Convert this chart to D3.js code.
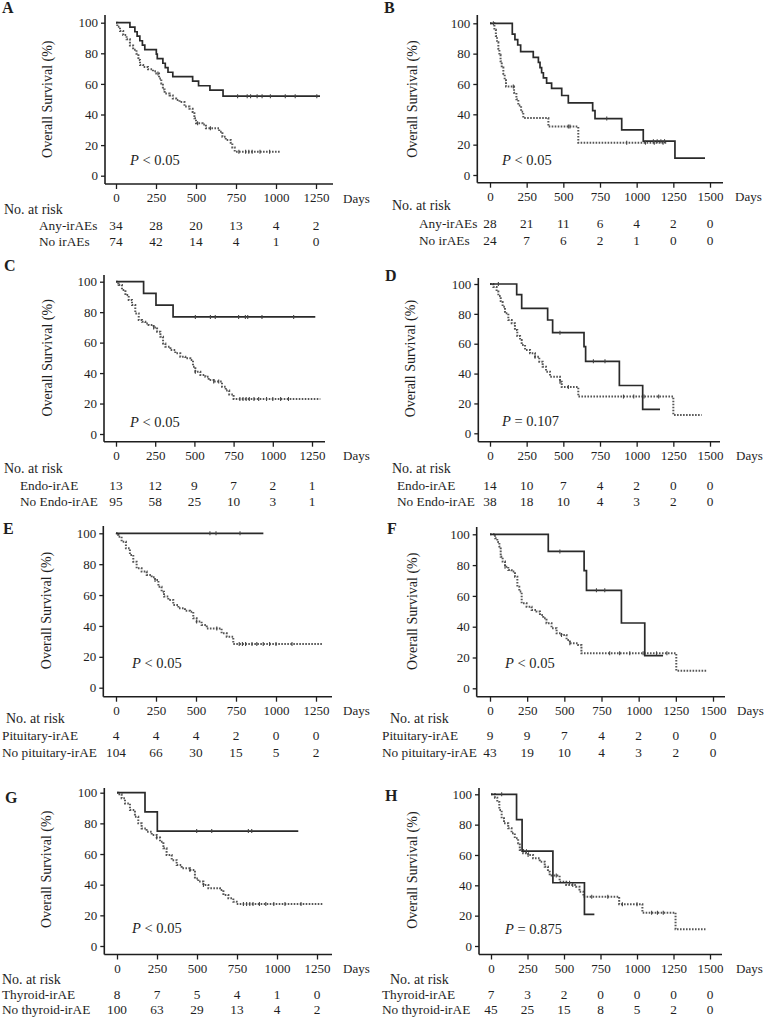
<!DOCTYPE html>
<html><head><meta charset="utf-8">
<script src="https://cdn.jsdelivr.net/npm/d3@7"></script>
<style>
body{margin:0;background:#fff;}
text{font-family:"Liberation Serif","Times New Roman",serif;fill:#1e1e1e;}
</style></head><body>
<svg id="chart" width="765" height="1019"></svg>
<script>
// ---------- tick labels ----------
const xTicksShort = [0,250,500,750,1000,1250];
const xTicksLong = [0,250,500,750,1000,1250,1500];
const yTicks = [0,20,40,60,80,100];

// ---------- Panel A ----------
const A_groups = ["Any-irAEs","No irAEs"];
const A_irAE = [[0,100],[87,97.1],[118,94.1],[132,91.2],[149,88.2],[165,85.3],[180,82.4],[252,79.4],[258,76.5],[293,73.5],[308,70.6],[325,67.6],[355,64.7],[479,61.8],[516,58.8],[587,55.9],[669,52.0],[1275,52.0]];
const A_irAE_cens = [760,820,841,882,913,965,1058,1120,1255];
const A_no = [[0,100],[8,97.3],[25,94.6],[45,91.9],[66,89.2],[87,85.1],[107,82.4],[128,79.7],[140,75.7],[150,72.3],[170,71],[200,69.6],[231,68.2],[252,66.8],[269,63.6],[283,60.3],[293,56.4],[304,53.8],[335,52.5],[355,50.5],[376,49.5],[397,48.1],[428,45.2],[459,43.8],[479,41.6],[490,37.5],[500,34.3],[541,33.5],[562,31],[645,28.8],[665,25.5],[686,23.3],[717,21.5],[727,18.5],[742,15.7],[1027,15.7]];
const A_no_cens = [262,510,590,768,810,830,851,900,960];
const A_risk1 = [34,28,20,13,4,2];
const A_risk2 = [74,42,14,4,1,0];

// ---------- Panel B ----------
const B_groups = ["Any-irAEs","No irAEs"];
const B_irAE = [[0,100],[152,92.9],[170,89.3],[189,85.7],[209,81.3],[295,77.6],[330,74.2],[341,70.8],[352,67.4],[364,64],[386,60.6],[420,57.1],[489,52.4],[534,47.6],[700,42.5],[716,37.2],[898,29.7],[1045,22.3],[1261,11.1],[1466,11.1]];
const B_irAE_cens = [23,796,1114,1140,1165,1190];
const B_no = [[0,100],[30,95.8],[40,91.7],[48,87.5],[57,83.3],[64,79.2],[72,75],[80,70.8],[91,66.7],[100,62.5],[109,58.3],[164,54.2],[180,50],[193,45.8],[212,41.7],[227,37.5],[398,31.9],[602,21.3],[1205,21.3]];
const B_no_cens = [159,534,545,932,1060,1120,1180];
const B_risk1 = [28,21,11,6,4,2,0];
const B_risk2 = [24,7,6,2,1,0,0];

// ---------- Panel C ----------
const C_groups = ["Endo-irAE","No Endo-irAE"];
const C_irAE = [[0,100],[176,92.3],[255,84.6],[364,76.9],[1271,76.9]];
const C_irAE_cens = [506,602,633,782,825,840,931,1133];
const C_no = [[0,100],[6,98.9],[17,97.8],[38,94.5],[60,91.2],[81,88],[102,84.7],[123,79.2],[145,74.8],[166,73.7],[187,72.6],[208,71.6],[240,70],[262,67.2],[283,63.9],[300,59.5],[315,57.3],[347,55.1],[378,53],[410,50.8],[442,49.7],[474,48.6],[491,44.2],[506,40.9],[538,38.7],[570,37.6],[591,35.4],[623,34.4],[676,31.1],[700,28.5],[722,26],[750,23],[1303,23]];
const C_no_cens = [240,506,623,655,790,810,830,850,880,910,960,1000,1050,1100];
const C_risk1 = [13,12,9,7,2,1];
const C_risk2 = [95,58,25,10,3,1];

// ---------- Panel D ----------
const D_groups = ["Endo-irAE","No Endo-irAE"];
const D_irAE = [[0,100],[182,92.9],[216,83.7],[393,75.9],[427,67.4],[641,58],[652,48.2],[882,32],[1041,16],[1159,16]];
const D_irAE_cens = [57,477,705,784];
const D_no = [[0,100],[23,98],[45,94.9],[57,92],[73,88],[86,84.8],[102,80.4],[125,75.9],[148,73.7],[170,69.2],[186,65.2],[205,62.5],[216,59.2],[239,55.8],[273,53.6],[307,51.3],[336,48],[359,44.6],[382,41.3],[409,37.9],[477,34.6],[489,31],[602,24.6],[1250,12.3],[1443,12.3]];
const D_no_cens = [307,477,534,910,980,1050,1150];
const D_risk1 = [14,10,7,4,2,0,0];
const D_risk2 = [38,18,10,4,3,2,0];

// ---------- Panel E ----------
const E_groups = ["Pituitary-irAE","No pituitary-irAE"];
const E_irAE = [[0,100],[921,100]];
const E_irAE_cens = [587,625,775];
const E_no = [[0,100],[4,98.9],[15,97.8],[35,94.6],[62,90.3],[87,86],[108,81.6],[129,77.3],[160,75.2],[192,73],[223,71.5],[244,69.8],[265,65.4],[285,62.2],[300,59],[327,56.8],[358,53.6],[390,51.4],[431,49.9],[462,49.2],[483,44.9],[504,42.8],[535,40.6],[567,38.4],[660,35.2],[692,33],[733,28.3],[1291,28.3]];
const E_no_cens = [244,504,630,770,790,810,850,880,920,960,1000,1100];
const E_risk1 = [4,4,4,2,0,0];
const E_risk2 = [104,66,30,15,5,2];

// ---------- Panel F ----------
const F_groups = ["Pituitary-irAE","No pituitary-irAE"];
const F_irAE = [[0,100],[392,88.9],[633,76.4],[649,63.6],[884,42.4],[1041,21.2],[1164,21.2]];
const F_irAE_cens = [470,716,772];
const F_no = [[0,100],[34,97.4],[49,95],[63,92],[72,85.5],[85,82.3],[101,79],[123,76.8],[145,75.8],[168,72.5],[184,66],[197,62.8],[213,55.2],[246,53],[280,50.9],[313,49.8],[336,47.6],[358,45.5],[380,42.2],[414,39],[448,35.7],[481,34.6],[515,31.4],[537,29.2],[593,28.1],[615,22.7],[1253,11.4],[1455,11.4]];
const F_no_cens = [101,481,537,805,872,940,1030,1120,1190];
const F_risk1 = [9,9,7,4,2,0,0];
const F_risk2 = [43,19,10,4,3,2,0];

// ---------- Panel G ----------
const G_groups = ["Thyroid-irAE","No thyroid-irAE"];
const G_irAE = [[0,100],[175,87.5],[252,75],[1133,75]];
const G_irAE_cens = [498,592,821,842];
const G_no = [[0,100],[8,99],[29,96.3],[50,93],[81,88.7],[112,84.3],[133,80],[154,76.7],[185,74.6],[217,72.4],[248,70.7],[269,68],[290,63.7],[310,59.3],[342,56],[373,52.8],[404,50.7],[456,49.6],[487,44.1],[508,42],[540,39.8],[571,37.6],[644,36.5],[665,33.3],[696,31.1],[727,28.9],[748,27.4],[1290,27.4]];
const G_no_cens = [248,456,540,790,810,830,850,890,930,980,1050,1150];
const G_risk1 = [8,7,5,4,1,0];
const G_risk2 = [100,63,29,13,4,2];

// ---------- Panel H ----------
const H_groups = ["Thyroid-irAE","No thyroid-irAE"];
const H_irAE = [[0,100],[175,83.3],[213,62.5],[424,41.7],[640,20.8],[708,20.8]];
const H_irAE_cens = [73,243,538];
const H_no = [[0,100],[27,97.8],[43,95],[57,89.7],[73,84.2],[89,80.9],[118,77.6],[141,74.3],[163,71],[186,67.7],[197,63.3],[220,61.1],[254,60],[288,57.8],[334,55.6],[368,52.3],[390,49],[402,46.4],[470,42.4],[515,40.2],[583,39.1],[606,35.8],[633,32.5],[878,27.5],[1037,22],[1264,11],[1469,11]];
const H_no_cens = [254,447,560,690,800,900,1000,1100,1140,1180];
const H_risk1 = [7,3,2,0,0,0,0];
const H_risk2 = [45,25,15,8,5,2,0];

const P_texts = {A:["<","0.05"],B:["<","0.05"],C:["<","0.05"],D:["=","0.107"],E:["<","0.05"],F:["<","0.05"],G:["<","0.05"],H:["=","0.875"]};

// ---------- layout (pixel geometry) ----------
const layout = {
 A:{x0:116,x1:316,yTop:22.7,yBot:175.7,axisY:184,axisX:105,axisEnd:333,yAxisTop:15,letter:[2,13],title:47,p:[130,165],daysX:343,head:[4,214],lab:39,rows:[230,246]},
 B:{x0:490,x1:710,yTop:23.3,yBot:175,axisY:182.7,axisX:477.3,axisEnd:723,yAxisTop:15,letter:[384,13],title:412,p:[502,165],daysX:735,head:[392,210],lab:419,rows:[228,245]},
 C:{x0:116,x1:312,yTop:281.7,yBot:434,axisY:441.7,axisX:104,axisEnd:325,yAxisTop:275,letter:[4,271],title:47,p:[130,427],daysX:343,head:[4,473],lab:20,rows:[490,506]},
 D:{x0:490,x1:710,yTop:284,yBot:433.3,axisY:441.7,axisX:478.3,axisEnd:720,yAxisTop:278,letter:[385,281],title:410,p:[502,426],daysX:736,head:[392,473],lab:397,rows:[490,506]},
 E:{x0:116,x1:316,yTop:533.3,yBot:687.7,axisY:696.7,axisX:103.3,axisEnd:332,yAxisTop:526,letter:[3,534],title:46,p:[132,668],daysX:343,head:[6,723],lab:2,rows:[740,757]},
 F:{x0:490,x1:713,yTop:534.3,yBot:688.3,axisY:696.7,axisX:476.7,axisEnd:725,yAxisTop:527,letter:[387,534],title:412,p:[505,668],daysX:737,head:[390,723],lab:382,rows:[740,757]},
 G:{x0:117,x1:317,yTop:792.7,yBot:946,axisY:954.5,axisX:104.3,axisEnd:332,yAxisTop:788,letter:[5,803],title:46,p:[132,933],daysX:343,head:[2,984],lab:2,rows:[999,1014]},
 H:{x0:491,x1:710,yTop:794.3,yBot:946,axisY:954.5,axisX:479,axisEnd:722,yAxisTop:788,letter:[385,801],title:412,p:[505,934],daysX:736,head:[390,984],lab:382,rows:[999,1014]}
};

const panels = [
 {id:"A",ticks:xTicksShort,groups:A_groups,s1:A_irAE,c1:A_irAE_cens,s2:A_no,c2:A_no_cens,r1:A_risk1,r2:A_risk2},
 {id:"B",ticks:xTicksLong,groups:B_groups,s1:B_irAE,c1:B_irAE_cens,s2:B_no,c2:B_no_cens,r1:B_risk1,r2:B_risk2},
 {id:"C",ticks:xTicksShort,groups:C_groups,s1:C_irAE,c1:C_irAE_cens,s2:C_no,c2:C_no_cens,r1:C_risk1,r2:C_risk2},
 {id:"D",ticks:xTicksLong,groups:D_groups,s1:D_irAE,c1:D_irAE_cens,s2:D_no,c2:D_no_cens,r1:D_risk1,r2:D_risk2},
 {id:"E",ticks:xTicksShort,groups:E_groups,s1:E_irAE,c1:E_irAE_cens,s2:E_no,c2:E_no_cens,r1:E_risk1,r2:E_risk2},
 {id:"F",ticks:xTicksLong,groups:F_groups,s1:F_irAE,c1:F_irAE_cens,s2:F_no,c2:F_no_cens,r1:F_risk1,r2:F_risk2},
 {id:"G",ticks:xTicksShort,groups:G_groups,s1:G_irAE,c1:G_irAE_cens,s2:G_no,c2:G_no_cens,r1:G_risk1,r2:G_risk2},
 {id:"H",ticks:xTicksLong,groups:H_groups,s1:H_irAE,c1:H_irAE_cens,s2:H_no,c2:H_no_cens,r1:H_risk1,r2:H_risk2}
];

const svg = d3.select("#chart");
const ink = "#1e1e1e";
const FONT = "Liberation Serif";

function stepValue(series, day){
  let v = series[0][1];
  for (const [d,s] of series){ if (d <= day) v = s; }
  return v;
}

panels.forEach(p => {
  const L = layout[p.id];
  const xmax = p.ticks[p.ticks.length-1];
  const x = d3.scaleLinear().domain([0,xmax]).range([L.x0,L.x1]);
  const y = d3.scaleLinear().domain([0,100]).range([L.yBot,L.yTop]);
  const g = svg.append("g");

  // axis lines
  g.append("line").attr("x1",L.axisX).attr("x2",L.axisEnd).attr("y1",L.axisY).attr("y2",L.axisY)
    .attr("stroke",ink).attr("stroke-width",1.6);
  g.append("line").attr("x1",L.axisX).attr("x2",L.axisX).attr("y1",L.axisY).attr("y2",L.yAxisTop)
    .attr("stroke",ink).attr("stroke-width",1.6);

  const ya = g.append("g").attr("transform",`translate(${L.axisX},0)`)
    .call(d3.axisLeft(y).tickValues(yTicks).tickFormat(d3.format("d")).tickSize(4).tickPadding(3));
  ya.attr("font-family",FONT);
  ya.select(".domain").remove();
  ya.selectAll("line").attr("stroke",ink).attr("stroke-width",1.3);
  ya.selectAll("text").attr("font-size",13).attr("fill",ink);

  const xa = g.append("g").attr("transform",`translate(0,${L.axisY})`)
    .call(d3.axisBottom(x).tickValues(p.ticks).tickFormat(d3.format("d")).tickSize(5).tickPadding(4));
  xa.attr("font-family",FONT);
  xa.select(".domain").remove();
  xa.selectAll("line").attr("stroke",ink).attr("stroke-width",1.3);
  xa.selectAll("text").attr("font-size",13).attr("fill",ink);

  g.append("text").attr("x",L.daysX).attr("y",L.axisY+18.5).attr("font-size",13).text("Days");

  // panel letter
  g.append("text").attr("x",L.letter[0]).attr("y",L.letter[1]).attr("font-size",16)
    .attr("font-weight","bold").text(p.id);

  // y title
  const ym = (L.yTop+L.yBot)/2;
  g.append("text").attr("transform",`translate(${L.title},${ym}) rotate(-90)`)
    .attr("text-anchor","middle").attr("dy","0.35em").attr("font-size",14).text("Overall Survival (%)");

  // P value
  const pt = g.append("text").attr("x",L.p[0]).attr("y",L.p[1]).attr("font-size",14.5);
  pt.append("tspan").attr("font-style","italic").text("P");
  pt.append("tspan").text(" " + P_texts[p.id][0] + " " + P_texts[p.id][1]);

  // curves
  const line = d3.line().x(d=>x(d[0])).y(d=>y(d[1])).curve(d3.curveStepAfter);
  g.append("path").attr("d",line(p.s2)).attr("fill","none").attr("stroke","#555")
    .attr("stroke-width",2).attr("stroke-dasharray","1.6,1.4");
  g.append("path").attr("d",line(p.s1)).attr("fill","none").attr("stroke","#2a2a2a")
    .attr("stroke-width",1.7);

  // censor marks
  p.c2.forEach(c => {
    const yy = y(stepValue(p.s2,c));
    g.append("line").attr("x1",x(c)).attr("x2",x(c)).attr("y1",yy-2).attr("y2",yy+2)
      .attr("stroke","#444").attr("stroke-width",1.1);
  });
  p.c1.forEach(c => {
    const yy = y(stepValue(p.s1,c));
    g.append("line").attr("x1",x(c)).attr("x2",x(c)).attr("y1",yy-2).attr("y2",yy+2)
      .attr("stroke","#444").attr("stroke-width",1.1);
  });

  // risk table
  g.append("text").attr("x",L.head[0]).attr("y",L.head[1]).attr("font-size",14).text("No. at risk");
  [p.groups[0],p.groups[1]].forEach((name,i) => {
    g.append("text").attr("x",L.lab).attr("y",L.rows[i]).attr("font-size",13.3).text(name);
  });
  [p.r1,p.r2].forEach((arr,i) => {
    g.selectAll(null).data(arr).enter().append("text")
      .attr("x",(d,j)=>x(p.ticks[j])).attr("y",L.rows[i]).attr("text-anchor","middle")
      .attr("font-size",13.3).text(d=>d);
  });
});
</script></body></html>
